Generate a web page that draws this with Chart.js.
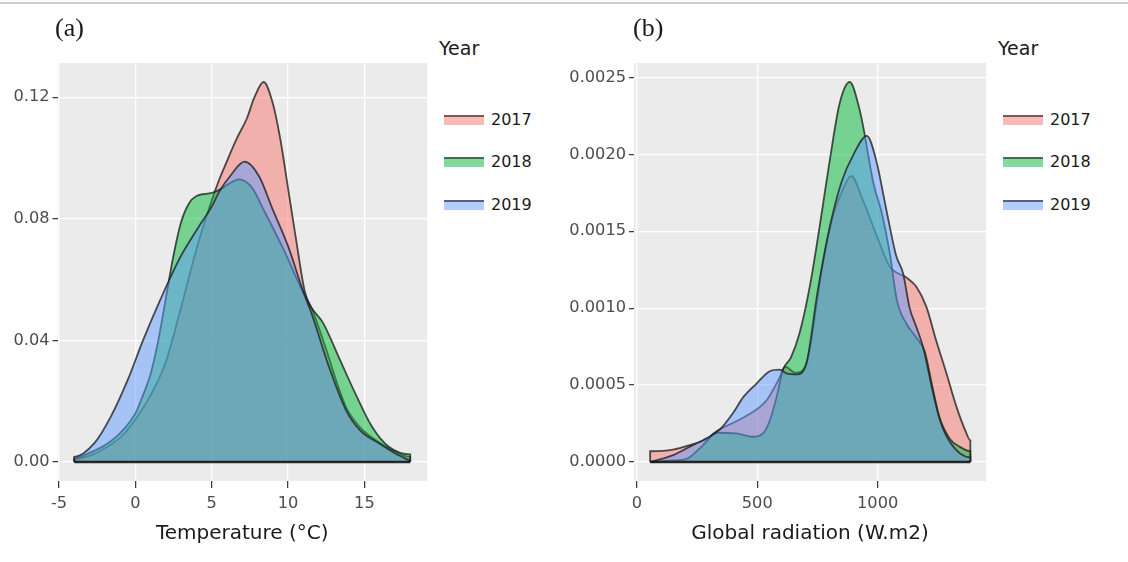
<!DOCTYPE html>
<html>
<head>
<meta charset="utf-8">
<script src="https://cdn.jsdelivr.net/npm/chart.js@4/dist/chart.umd.min.js"></script>
<style>
  html, body { margin: 0; padding: 0; background: #fff; }
  #page { position: relative; width: 1128px; height: 562px; overflow: hidden; font-family: 'DejaVu Sans', sans-serif; color: #1a1a1a; }
  canvas { position: absolute; top: 0; }
  .rule { position: absolute; left: 0; top: 2px; width: 1128px; height: 2px; background: #cfcfcf; }
  .tag { position: absolute; font-family: 'Liberation Serif', serif; font-size: 26px; line-height: 26px; }
  .ltitle { position: absolute; font-size: 19px; line-height: 20px; }
  .key { position: absolute; width: 40px; height: 8px; border-top: 2px solid rgba(70,70,70,0.8); }
  .klabel { position: absolute; font-size: 16px; line-height: 18px; }
</style>
</head>
<body>
<div id="page">
  <div class="rule"></div>
  <canvas id="chartA" width="432" height="562" style="left:0px"></canvas>
  <canvas id="chartB" width="422" height="562" style="left:564px"></canvas>
  <div class="tag" style="left:55px; top:15px">(a)</div>
  <div class="tag" style="left:633px; top:15px">(b)</div>
  <div id="legendA"></div>
  <div id="legendB"></div>
</div>
<script>
// ---- data ----
const years = ['2017', '2018', '2019'];
const yearColors = ['248,118,109', '0,186,56', '97,156,255'];

// (a) temperature densities
const tempX2017 = [-4, -4, -3, -2, -1, 0, 1, 2, 3, 4, 5, 5.5, 6, 6.6, 7.3, 7.8, 8.4, 9.0, 9.5, 10, 10.5, 11.1, 11.6, 12.5, 13.2, 13.8, 14.7, 15.8, 16.8, 18, 18];
const tempD2017 = [0, 0.001, 0.002, 0.0045, 0.008, 0.014, 0.022, 0.033, 0.051, 0.070, 0.086, 0.093, 0.099, 0.106, 0.113, 0.120, 0.125, 0.118, 0.106, 0.090, 0.074, 0.056, 0.050, 0.037, 0.026, 0.018, 0.0115, 0.007, 0.004, 0.0017, 0];
const tempX2018 = [-4, -4, -3, -2, -1, 0, 0.5, 1, 1.5, 2, 2.5, 3, 3.5, 4, 5, 5.5, 6.8, 7.6, 8.5, 9.7, 10.6, 11.5, 12.3, 13.4, 14.5, 15.5, 16.6, 18, 18];
const tempD2018 = [0, 0.0012, 0.003, 0.0055, 0.0095, 0.016, 0.022, 0.029, 0.040, 0.054, 0.068, 0.079, 0.085, 0.0875, 0.0885, 0.0895, 0.093, 0.0905, 0.082, 0.070, 0.060, 0.051, 0.0457, 0.0336, 0.0215, 0.0116, 0.005, 0.0025, 0];
const tempX2019 = [-4, -4, -2.7, -1.6, -0.5, 0.5, 1.6, 2.9, 4.1, 5.0, 5.5, 6.2, 7.15, 8.1, 9.0, 10.0, 11.0, 11.6, 12.7, 13.8, 14.7, 16.0, 17.0, 18];
const tempD2019 = [0, 0.0017, 0.0061, 0.015, 0.027, 0.040, 0.053, 0.067, 0.077, 0.084, 0.089, 0.094, 0.0988, 0.094, 0.083, 0.071, 0.056, 0.048, 0.031, 0.017, 0.0105, 0.006, 0.0029, 0.0004];
const tempTicks = [-5, 0, 5, 10, 15];
const tempDensTicks = [0, 0.04, 0.08, 0.12];

// (b) global radiation densities
const radX2017 = [55, 55, 150, 220, 290, 331, 455, 538, 593, 614, 660, 704, 773, 815, 850, 890, 939, 994, 1050, 1119, 1160, 1202, 1243, 1285, 1327, 1368, 1385, 1385];
const radD2017 = [0, 0.00007, 0.00008, 0.00011, 0.00015, 0.0002, 0.0003, 0.0004, 0.00055, 0.00062, 0.00058, 0.00064, 0.0013, 0.0016, 0.00175, 0.00186, 0.0017, 0.00148, 0.00127, 0.0012, 0.00114, 0.00101, 0.00079, 0.00058, 0.00036, 0.00019, 0.00014, 0];
const radX2018 = [55, 150, 206, 275, 331, 413, 483, 524, 552, 580, 607, 640, 676, 718, 759, 801, 842, 884, 925, 946, 980, 1020, 1050, 1080, 1119, 1160, 1195, 1230, 1257, 1300, 1340, 1385, 1385];
const radD2018 = [0, 0.00001, 0.00002, 0.00011, 0.00019, 0.000186, 0.000164, 0.000186, 0.00027, 0.00042, 0.0006, 0.00068, 0.00084, 0.00114, 0.00153, 0.00196, 0.00233, 0.00247, 0.00229, 0.00213, 0.00183, 0.0016, 0.00136, 0.00105, 0.0009, 0.00081, 0.00072, 0.00047, 0.00029, 0.00015, 0.0001, 0.00007, 0];
const radX2019 = [55, 151, 220, 289, 344, 400, 441, 497, 552, 593, 621, 665, 704, 750, 800, 850, 900, 955, 994, 1036, 1077, 1105, 1133, 1160, 1188, 1230, 1257, 1300, 1385, 1385];
const radD2019 = [0, 0.000045, 0.0001, 0.000154, 0.00021, 0.00032, 0.00042, 0.00051, 0.00059, 0.0006, 0.000576, 0.00057, 0.00064, 0.0011, 0.00152, 0.00182, 0.002, 0.00212, 0.00196, 0.00164, 0.00134, 0.00123, 0.001, 0.00088, 0.00075, 0.00045, 0.00028, 0.00013, 0.00003, 0];
const radTicks = [0, 500, 1000];
const radDensTicks = [0, 0.0005, 0.001, 0.0015, 0.002, 0.0025];

const FONT = 'DejaVu Sans';

// grey ggplot panel behind the grid
const panelBg = {
    id: 'panelBg',
    beforeDraw(chart) {
        const { ctx, chartArea: a } = chart;
        ctx.save();
        ctx.fillStyle = '#EBEBEB';
        ctx.fillRect(a.left, a.top, a.right - a.left, a.bottom - a.top);
        ctx.restore();
    }
};

function toPoints(xs, ys) {
    return xs.map((x, i) => ({ x: x, y: ys[i] }));
}

function makePanel(id, series, opts) {
    const allX = series.flatMap(s => s.x);
    const datasets = series.map((s, i) => ({
        label: years[i],
        data: toPoints(s.x, s.y),
        order: 3 - i, // 2017 drawn first, 2019 on top
        fill: 'origin',
        backgroundColor: 'rgba(' + yearColors[i] + ',0.5)',
        borderColor: 'rgba(35,35,35,0.8)',
        borderWidth: 1.8,
        pointRadius: 0,
        cubicInterpolationMode: 'monotone'
    }));
    // dark bottom edge of the density polygons
    datasets.push({
        label: 'base',
        data: [{ x: Math.min(...allX), y: 0 }, { x: Math.max(...allX), y: 0 }],
        order: 0,
        fill: false,
        borderColor: 'rgba(20,20,20,0.9)',
        borderWidth: 2.4,
        pointRadius: 0
    });

    new Chart(document.getElementById(id), {
        type: 'line',
        data: { datasets: datasets },
        plugins: [panelBg],
        options: {
            responsive: false,
            animation: false,
            events: [],
            layout: { padding: { top: 63, right: opts.padRight, left: 0, bottom: 0 } },
            plugins: { legend: { display: false }, tooltip: { enabled: false } },
            scales: {
                x: {
                    type: 'linear',
                    min: opts.xMin,
                    max: opts.xMax,
                    afterBuildTicks: s => { s.ticks = opts.xTicks.map(v => ({ value: v })); },
                    afterFit: s => { s.height = 81; },
                    border: { display: false },
                    grid: { color: '#FFFFFF', lineWidth: 1.3, tickColor: '#333333', tickLength: 7, tickWidth: 1.2 },
                    ticks: { color: '#4D4D4D', font: { family: FONT, size: 16.2 }, padding: 6, maxRotation: 0, callback: v => String(v) },
                    title: { display: true, text: opts.xTitle, color: '#1A1A1A', font: { family: FONT, size: 20 }, padding: { top: 0, bottom: 16 } }
                },
                y: {
                    type: 'linear',
                    min: opts.yMin,
                    max: opts.yMax,
                    afterBuildTicks: s => { s.ticks = opts.yTicks.map(v => ({ value: v })); },
                    afterFit: s => { s.width = opts.yWidth; },
                    border: { display: false },
                    grid: { color: '#FFFFFF', lineWidth: 1.3, tickColor: '#333333', tickLength: 5, tickWidth: 1.2 },
                    ticks: { color: '#4D4D4D', font: { family: FONT, size: 16.2 }, padding: 3, callback: v => v.toFixed(opts.digits) }
                }
            }
        }
    });
}

function makeLegend(id, left) {
    const box = document.getElementById(id);
    let html = '<div class="ltitle" style="left:' + (left - 5) + 'px; top:38px">Year</div>';
    const centers = [120, 162, 205];
    years.forEach((y, i) => {
        html += '<div class="key" style="left:' + left + 'px; top:' + (centers[i] - 5) + 'px; background:rgba(' + yearColors[i] + ',0.5)"></div>';
        html += '<div class="klabel" style="left:' + (left + 47) + 'px; top:' + (centers[i] - 9) + 'px">' + y + '</div>';
    });
    box.innerHTML = html;
}

makePanel('chartA', [
    { x: tempX2017, y: tempD2017 },
    { x: tempX2018, y: tempD2018 },
    { x: tempX2019, y: tempD2019 }
], {
    xMin: -5.1, xMax: 19.1, yMin: -0.00625, yMax: 0.13125,
    xTicks: tempTicks, yTicks: tempDensTicks, digits: 2,
    xTitle: 'Temperature (°C)', yWidth: 57.5, padRight: 5
});

makePanel('chartB', [
    { x: radX2017, y: radD2017 },
    { x: radX2018, y: radD2018 },
    { x: radX2019, y: radD2019 }
], {
    xMin: -12, xMax: 1450, yMin: -0.0001235, yMax: 0.0025935,
    xTicks: radTicks, yTicks: radDensTicks, digits: 4,
    xTitle: 'Global radiation (W.m2)', yWidth: 70, padRight: 0
});

makeLegend('legendA', 444);
makeLegend('legendB', 1003);
</script>
</body>
</html>
